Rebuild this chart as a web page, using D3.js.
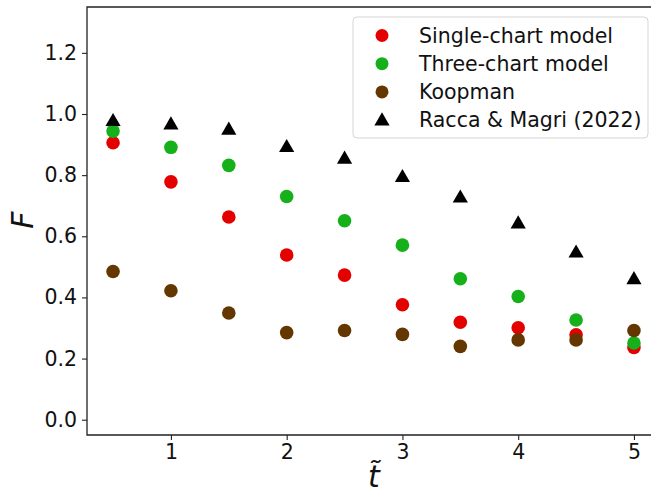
<!DOCTYPE html>
<html>
<head>
<meta charset="utf-8">
<script src="https://cdn.jsdelivr.net/npm/d3@7"></script>
<style>
  html, body { margin: 0; padding: 0; background: #fff; }
  svg { display: block; font-family: "DejaVu Sans", sans-serif; }
</style>
</head>
<body>
<div id="app"></div>
<script>
// data
const tValues = [0.5, 1, 1.5, 2, 2.5, 3, 3.5, 4, 4.5, 5];
const singleChart = [0.906, 0.778, 0.663, 0.539, 0.473, 0.376, 0.319, 0.301, 0.278, 0.236];
const threeChart = [0.944, 0.891, 0.832, 0.730, 0.651, 0.571, 0.461, 0.403, 0.326, 0.251];
const koopman = [0.485, 0.422, 0.349, 0.285, 0.292, 0.279, 0.240, 0.261, 0.261, 0.292];
const racca = [0.978, 0.967, 0.950, 0.893, 0.855, 0.795, 0.728, 0.643, 0.548, 0.461];
const seriesNames = ['Single-chart model', 'Three-chart model', 'Koopman', 'Racca & Magri (2022)'];
const xTicks = [1, 2, 3, 4, 5];
const yTicks = [0.0, 0.2, 0.4, 0.6, 0.8, 1.0, 1.2];

const series = [
  { name: seriesNames[0], values: singleChart, color: '#e50000', shape: 'circle' },
  { name: seriesNames[1], values: threeChart, color: '#15b01a', shape: 'circle' },
  { name: seriesNames[2], values: koopman, color: '#653700', shape: 'circle' },
  { name: seriesNames[3], values: racca, color: '#000000', shape: 'triangle' }
];

const width = 651, height = 492;
const margin = { left: 87, top: 7, right: 660, bottom: 435 };

const x = d3.scaleLinear().domain([0.275, 5.225]).range([margin.left, margin.right]);
const y = d3.scaleLinear().domain([-0.05, 1.35]).range([margin.bottom, margin.top]);

const svg = d3.select('#app').append('svg').attr('width', width).attr('height', height);

// axes
const xAxis = svg.append('g')
  .attr('transform', `translate(0,${margin.bottom})`)
  .call(d3.axisBottom(x).tickValues(xTicks).tickFormat(d3.format('d')).tickSizeOuter(0).tickSize(5).tickPadding(4));
const yAxis = svg.append('g')
  .attr('transform', `translate(${margin.left},0)`)
  .call(d3.axisLeft(y).tickValues(yTicks).tickFormat(d3.format('.1f')).tickSizeOuter(0).tickSize(5).tickPadding(5));

[xAxis, yAxis].forEach(a => {
  a.select('.domain').remove();
  a.selectAll('line').attr('stroke', '#222').attr('stroke-width', 1.1);
  a.selectAll('text').attr('font-size', '20.5px').attr('fill', '#111')
    .attr('font-family', '"DejaVu Sans", sans-serif');
});

// spines (left, bottom, top; right one falls outside the page)
svg.append('path')
  .attr('d', `M${margin.right},${margin.top}H${margin.left}V${margin.bottom}H${margin.right}`)
  .attr('fill', 'none').attr('stroke', '#222').attr('stroke-width', 1.3);

const tri = d3.symbol().type(d3.symbolTriangle).size(100);

// markers
series.forEach(s => {
  const g = svg.append('g');
  if (s.shape === 'circle') {
    g.selectAll('circle').data(s.values).enter().append('circle')
      .attr('cx', (d, i) => x(tValues[i]))
      .attr('cy', d => y(d))
      .attr('r', 6.8)
      .attr('fill', s.color);
  } else {
    g.selectAll('path').data(s.values).enter().append('path')
      .attr('d', tri)
      .attr('transform', (d, i) => `translate(${x(tValues[i])},${y(d) + 1})`)
      .attr('fill', s.color);
  }
});

// axis labels
svg.append('text')
  .attr('transform', 'translate(33,220) rotate(-90)')
  .attr('text-anchor', 'middle')
  .attr('font-size', '30px').attr('font-style', 'italic')
  .attr('fill', '#111')
  .text('F');

svg.append('text')
  .attr('x', 374).attr('y', 487)
  .attr('text-anchor', 'middle')
  .attr('font-size', '30px').attr('font-style', 'italic')
  .attr('fill', '#111')
  .text('t\u0303');

// legend
const legend = svg.append('g');
legend.append('rect')
  .attr('x', 353).attr('y', 17).attr('width', 295).attr('height', 121)
  .attr('rx', 4)
  .attr('fill', 'rgba(255,255,255,0.8)').attr('stroke', '#d5d5d5').attr('stroke-width', 1);

series.forEach((s, i) => {
  const cy = 35.5 + i * 28.2;
  if (s.shape === 'circle') {
    legend.append('circle').attr('cx', 382).attr('cy', cy).attr('r', 6.5).attr('fill', s.color);
  } else {
    legend.append('path').attr('d', tri).attr('transform', `translate(382,${cy + 1})`).attr('fill', s.color);
  }
  legend.append('text')
    .attr('x', 419).attr('y', cy)
    .attr('dy', '0.36em')
    .attr('font-size', '20.5px').attr('fill', '#111')
    .text(s.name);
});
</script>
</body>
</html>
